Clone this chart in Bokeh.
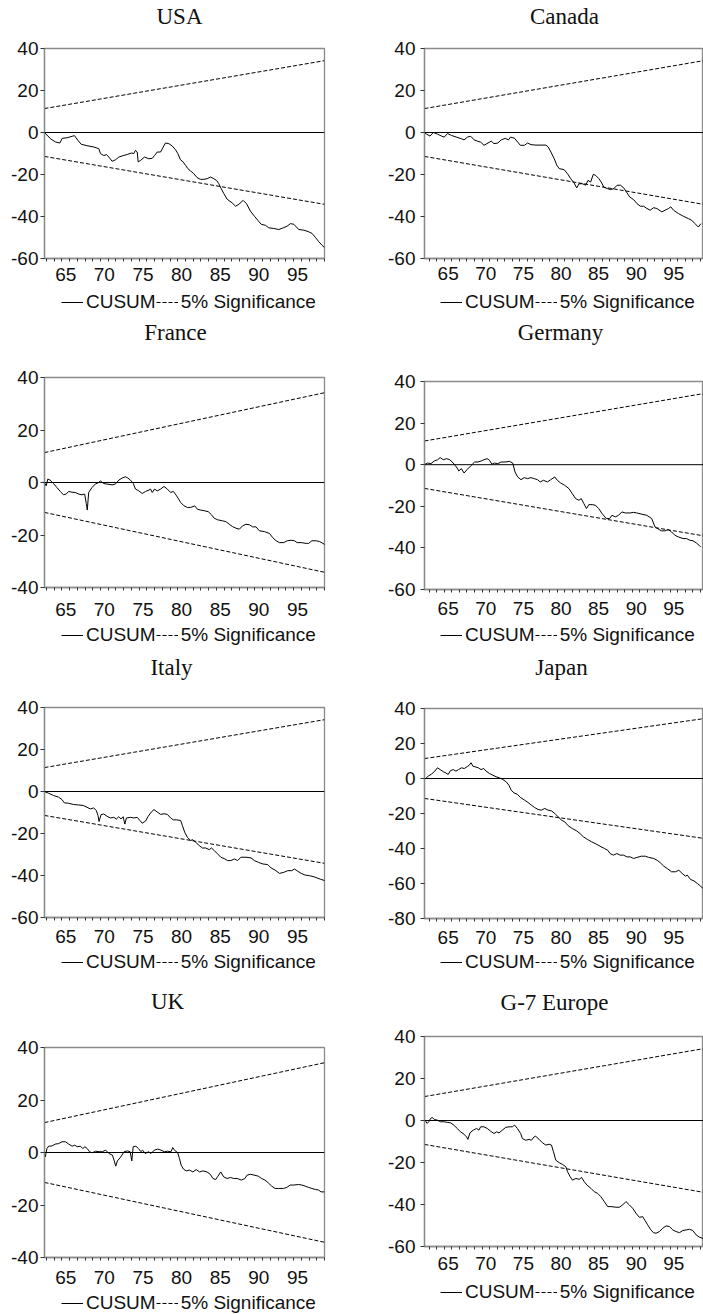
from bokeh.plotting import figure
from bokeh.models import Range1d, FixedTicker, Span, Legend, LegendItem, Label
from bokeh.layouts import row, column
from bokeh.embed import file_html
from bokeh.resources import INLINE

# ---------------- data ----------------
titles = ["USA", "Canada", "France", "Germany", "Italy", "Japan", "UK", "G-7 Europe"]

usa = [(62.75, 0), (63.53, -3), (64.17, -4.5), (64.74, -5), (65.04, -2.8), (65.68, -2.5), (66.33, -1.8),
       (66.63, -1.5), (67.07, -3.7), (67.50, -5.6), (68.27, -6.3), (69.14, -6.9), (69.78, -7.7), (70.00, -10),
       (70.43, -11), (70.78, -10.5), (71.08, -11.7), (71.51, -13.7), (71.94, -13), (72.37, -11.7), (72.93, -11),
       (73.45, -10.5), (73.97, -9.8), (74.31, -10), (74.53, -8.5), (74.75, -9.3), (74.88, -14), (75.18, -13.3),
       (75.70, -11.7), (76.26, -12.5), (76.69, -12.3), (76.99, -11), (77.34, -9.3), (77.77, -9.3), (78.11, -7),
       (78.41, -5), (78.85, -5.3), (79.28, -6.4), (79.71, -8.2), (80.01, -10), (80.36, -13), (80.70, -14),
       (81.00, -15.6), (81.31, -17.2), (81.65, -18.3), (82.08, -19.6), (82.51, -21.5), (82.94, -22.3),
       (83.38, -22.3), (83.81, -22), (84.24, -21.2), (84.67, -22), (85.02, -22.8), (85.32, -24.4), (85.62, -26.7),
       (85.97, -29.1), (86.40, -31.8), (87.04, -33.5), (87.48, -35.1), (87.91, -34.2), (88.47, -32.3),
       (88.90, -33.9), (89.42, -37.5), (89.93, -39.9), (90.37, -41.8), (90.80, -43.7), (91.36, -44.2),
       (91.79, -45.4), (92.44, -45.7), (93.08, -46.2), (93.65, -45.4), (94.16, -44.6), (94.60, -43.4),
       (95.03, -43.7), (95.67, -46.2), (96.32, -46.5), (96.97, -47.3), (97.40, -48.1), (97.83, -50),
       (98.26, -52), (98.69, -53.7), (99.00, -54.8)]

canada = [(62.20, 0), (62.64, -0.8), (63.08, -1.7), (63.52, 0), (64.09, -0.8), (64.62, -1.7), (64.97, -2.2),
          (65.41, -0.5), (65.94, -1.4), (66.60, -2.2), (67.26, -3), (67.61, -3.5), (68.06, -2.2), (68.50, -1.8),
          (68.94, -3.5), (69.38, -4.1), (69.82, -4.6), (70.26, -6.1), (70.79, -5), (71.23, -4.1), (71.58, -5.3),
          (72.11, -5), (72.55, -3.5), (73.08, -2.8), (73.52, -3.5), (73.78, -2.2), (74.31, -2.7), (74.75, -4.6),
          (75.10, -6.1), (75.63, -6.1), (76.07, -5), (76.51, -5.8), (77.17, -6), (77.83, -6), (78.50, -6),
          (78.80, -6.9), (79.16, -9.3), (79.60, -12.5), (79.95, -15.6), (80.26, -17.2), (80.92, -17.7),
          (81.36, -19.6), (81.80, -22), (82.24, -24), (82.59, -26.4), (82.90, -24.4), (83.34, -24.4),
          (83.78, -25.1), (84.09, -22.8), (84.44, -23.6), (84.80, -19.9), (85.10, -20.4), (85.54, -22),
          (85.85, -23.6), (86.20, -26), (86.65, -26.7), (87.09, -27.2), (87.53, -26.7), (87.97, -25.1),
          (88.41, -25.1), (88.85, -26.4), (89.29, -28.8), (89.64, -30.7), (90.17, -32), (90.61, -33.9),
          (91.05, -35.1), (91.49, -35.1), (91.93, -36.2), (92.37, -37), (92.81, -35.8), (93.25, -36.2),
          (93.91, -37.8), (94.35, -37), (94.80, -36.2), (95.10, -35.4), (95.46, -37), (96.12, -38.6),
          (96.78, -39.9), (97.44, -41), (97.88, -41.8), (98.32, -43.4), (98.76, -45), (99.11, -43.4)]

france = [(62.75, 0), (62.97, -1.3), (63.18, 1.3), (63.49, 0.9), (63.92, -0.4), (64.35, -1.9), (64.79, -3.4),
          (65.22, -4.7), (65.56, -4.4), (65.87, -3.4), (66.30, -3.7), (66.73, -3.8), (67.17, -4.4), (67.60, -4.7),
          (67.95, -4.4), (68.16, -8), (68.29, -10.5), (68.47, -3.8), (68.90, -1.9), (69.33, -0.6), (69.77, 0),
          (69.98, 0.6), (70.42, -0.4), (70.85, -0.6), (71.50, -0.9), (71.93, -0.6), (72.37, 0.9), (72.80, 1.7),
          (73.23, 2.2), (73.54, 1.7), (73.88, 0.9), (74.23, -0.3), (74.53, -2.5), (74.97, -3.2), (75.40, -4.2),
          (75.83, -3.4), (76.27, -2.9), (76.48, -2.5), (76.70, -3.8), (77.00, -2.5), (77.35, -3.2), (77.78, -2.5),
          (78.22, -1.5), (78.65, -2.5), (79.08, -3.8), (79.43, -3.4), (79.86, -5.1), (80.38, -7.6), (80.82, -8.9),
          (81.25, -9.5), (81.68, -9.5), (82.20, -8.9), (82.55, -10.2), (82.98, -10.5), (83.50, -10.8),
          (83.94, -11.1), (84.37, -12.3), (84.72, -13.6), (85.15, -14.2), (85.80, -14.6), (86.23, -14.9),
          (86.67, -15.9), (87.10, -16.8), (87.53, -17.4), (87.97, -17.8), (88.40, -16.5), (88.83, -15.9),
          (89.27, -16.1), (89.70, -16.9), (90.13, -16.9), (90.57, -18.4), (91.22, -18.7), (91.87, -19.4),
          (92.30, -21), (92.73, -22.2), (93.17, -22.9), (93.73, -22.9), (94.16, -22.2), (94.68, -22),
          (95.12, -22.2), (95.46, -22.9), (95.98, -22.9), (96.63, -23.2), (96.94, -23.2), (97.37, -22.2),
          (97.93, -22.2), (98.37, -22.5), (98.80, -23.2), (99.10, -23.8)]

germany = [(62.20, -0.3), (62.42, 0.2), (62.77, 0.8), (63.21, 0.5), (63.65, 1.8), (64.09, 2.4), (64.44, 3.4),
           (64.84, 2.4), (65.28, 2.9), (65.72, 2.4), (66.16, 0.8), (66.60, -1.1), (66.91, -3), (67.26, -1.9),
           (67.61, -4), (68.05, -2.2), (68.49, -0.6), (69.02, 1.3), (69.46, 1.3), (69.90, 1.8), (70.25, 2.4),
           (70.69, 2.9), (71.00, 2.1), (71.31, 0.2), (71.66, 0.8), (72.10, 0.5), (72.54, 1.3), (73.07, 1.3),
           (73.64, 1.6), (74.08, 0.8), (74.39, -3.5), (74.74, -5.9), (75.18, -7.2), (75.62, -6.2), (76.06, -6.7),
           (76.50, -6.2), (76.94, -6.7), (77.38, -7.2), (77.73, -8.3), (78.17, -7.5), (78.70, -8.3), (79.14, -7.2),
           (79.67, -5.9), (80.02, -7.5), (80.46, -8.8), (80.99, -9.9), (81.56, -11.5), (82.00, -13.9),
           (82.44, -16.3), (82.88, -17.1), (83.19, -16.3), (83.54, -18.7), (83.89, -21.1), (84.20, -19.2),
           (84.64, -19.2), (85.08, -19.5), (85.52, -21.1), (85.96, -23.5), (86.53, -25.9), (86.97, -25.9),
           (87.28, -24.3), (87.72, -25.1), (88.16, -24.3), (88.60, -22.7), (89.04, -23.2), (89.70, -23.2),
           (90.14, -22.9), (90.58, -23.2), (91.24, -23.8), (91.90, -24.3), (92.56, -25.9), (93.00, -29.9),
           (93.44, -31), (93.88, -31.8), (94.32, -31.8), (94.76, -31.2), (95.20, -32.3), (95.64, -33.9),
           (96.08, -34.7), (96.74, -35.5), (97.18, -35.5), (97.62, -36.3), (98.06, -36.6), (98.50, -37.6),
           (98.85, -38.7), (99.07, -39.5)]

italy = [(62.71, 0), (63.27, -0.8), (63.92, -1.9), (64.57, -2.7), (65.00, -3.8), (65.31, -5.4), (65.87, -5.6),
         (66.52, -6.2), (67.17, -6.4), (67.82, -6.7), (68.25, -7.5), (68.68, -8.3), (69.12, -7.8), (69.46, -9.1),
         (69.68, -11.5), (69.81, -14.3), (70.07, -11), (70.42, -10.7), (70.85, -11.8), (71.28, -12.6),
         (71.72, -12.3), (72.06, -13.1), (72.37, -12), (72.67, -13.1), (72.93, -12), (73.15, -15.5),
         (73.36, -12.6), (73.88, -12.3), (74.32, -12.6), (74.75, -12.3), (75.10, -13.8), (75.40, -15.1),
         (75.83, -14.1), (76.14, -12), (76.57, -9.8), (76.92, -8.6), (77.35, -9.8), (77.78, -10.9), (78.22, -10.6),
         (78.65, -10.9), (79.08, -12.6), (79.43, -13.5), (79.86, -13.5), (80.38, -13.8), (80.60, -16.2),
         (80.90, -19.4), (81.25, -21.8), (81.68, -23.4), (81.90, -22.9), (82.33, -24.2), (82.77, -25.7),
         (83.20, -26.9), (83.63, -26.9), (84.07, -27.7), (84.37, -26.9), (84.72, -28.1), (85.15, -29.7),
         (85.58, -31.3), (86.10, -32.1), (86.45, -32.9), (86.88, -32.9), (87.32, -32.1), (87.75, -32.9),
         (88.18, -31.3), (88.83, -31.3), (89.48, -31.6), (89.92, -32.9), (90.44, -33.7), (91.00, -34.5),
         (91.65, -34.8), (92.08, -36.4), (92.60, -37.4), (93.17, -39), (93.73, -38.5), (94.24, -37.7),
         (94.76, -37.7), (95.12, -36.9), (95.55, -38), (95.98, -39), (96.50, -39.8), (97.06, -40.1),
         (97.63, -40.6), (98.06, -41.2), (98.49, -41.8), (99.10, -42.5)]

japan = [(62.51, 0), (62.83, 1.3), (63.27, 2.5), (63.72, 4.2), (64.07, 6.1), (64.43, 5.1), (64.88, 3.8),
         (65.19, 3.2), (65.50, 2.3), (65.77, 4.4), (66.17, 5.1), (66.53, 4.2), (66.88, 5.1), (67.28, 6.1),
         (67.64, 5.7), (68.09, 7), (68.31, 7.6), (68.53, 9), (68.80, 7), (69.07, 6.7), (69.51, 6.1), (69.87, 5.1),
         (70.23, 5.7), (70.54, 4.2), (70.98, 2.9), (71.43, 1.9), (71.88, 1), (72.32, 0.4), (72.77, -0.6),
         (73.21, -1.9), (73.57, -3.8), (73.88, -6.7), (74.24, -8.2), (74.68, -9), (75.13, -10.9), (75.67, -12.4),
         (76.11, -13.7), (76.56, -15.2), (77.00, -16.6), (77.45, -17.7), (77.89, -18.1), (78.34, -17.1),
         (78.79, -18.1), (79.23, -18.5), (79.68, -20), (80.12, -21.9), (80.57, -23.8), (81.01, -24.8),
         (81.46, -27), (82.00, -28.6), (82.57, -29.9), (83.02, -31.4), (83.47, -33.3), (84.05, -34.9),
         (84.58, -36.2), (85.03, -37.1), (85.70, -38.7), (86.28, -40), (86.72, -41), (87.03, -42.9),
         (87.48, -43.8), (87.93, -42.9), (88.37, -43.8), (88.82, -43.8), (89.26, -44.8), (89.71, -44.8),
         (90.15, -45.7), (90.60, -45.1), (91.18, -44.4), (91.71, -44.4), (92.16, -45.1), (92.83, -45.7),
         (93.28, -46.7), (93.72, -48.2), (94.17, -50.1), (94.61, -51.4), (95.19, -53.3), (95.73, -53.3),
         (96.17, -52.4), (96.62, -54.3), (97.07, -55.8), (97.29, -55.2), (97.73, -57.7), (98.18, -58.5),
         (98.63, -60), (99.07, -61.5), (99.38, -62.9), (99.65, -62), (99.87, -62.3)]

uk = [(62.50, -0.4), (62.72, -1), (62.85, -1.7), (63.07, 1.5), (63.29, 2.4), (63.72, 2.5), (64.15, 3.2),
      (64.59, 3.4), (65.02, 4.1), (65.46, 4.1), (65.89, 3.2), (66.33, 2.4), (66.67, 2.8), (66.98, 2.2),
      (67.41, 2.4), (67.71, 1.5), (67.98, 2.2), (68.28, 1.5), (68.58, 0.3), (68.93, -0.1), (69.36, 0.5),
      (69.80, 0.3), (70.23, 0.3), (70.67, 0.9), (71.10, -0.4), (71.54, -1), (71.75, -2.9), (71.97, -5.2),
      (72.19, -3.2), (72.62, -1.7), (73.06, 0.3), (73.49, 0.6), (73.84, 0.3), (74.05, -3.2), (74.23, 2.2),
      (74.58, 2.4), (74.92, 1.5), (75.23, 0.3), (75.44, 0.9), (75.79, -0.4), (76.23, 0.3), (76.53, -0.4),
      (76.96, 0.9), (77.40, 1.3), (77.83, 0.9), (78.27, 0.3), (78.70, 0.5), (79.13, 0.3), (79.35, 1.9),
      (79.57, 0.9), (80.00, -0.1), (80.22, -2.3), (80.44, -4.8), (80.74, -6.3), (81.09, -7), (81.52, -6.7),
      (81.96, -7.4), (82.39, -6.5), (82.83, -7.4), (83.26, -7), (83.78, -7.4), (84.21, -8.3), (84.56, -9.9),
      (84.91, -10.3), (85.21, -9.0), (85.56, -7.4), (85.95, -9.3), (86.39, -9.9), (86.82, -9.5), (87.25, -9.9),
      (87.69, -9.9), (88.25, -10.5), (88.69, -9.9), (88.99, -8.6), (89.43, -8.3), (89.86, -8.6), (90.42, -9.0),
      (90.86, -9.9), (91.29, -10.5), (91.73, -11.6), (92.16, -12.8), (92.60, -13.7), (93.03, -13.7),
      (93.68, -13.7), (94.12, -13.3), (94.55, -12.4), (94.98, -12.4), (95.64, -12.2), (96.07, -12.4),
      (96.50, -12.8), (96.94, -13.3), (97.37, -13.7), (97.81, -14.1), (98.24, -14.3), (98.54, -15.0),
      (98.98, -15.0)]

g7_europe = [(62.48, -0.2), (62.70, -1.4), (62.92, -0.6), (63.14, 0.9), (63.37, 1.4), (63.68, 0.5), (64.03, 0.2),
             (64.48, -0.6), (64.92, -0.6), (65.37, -0.9), (65.81, -1.1), (66.26, -2.2), (66.70, -3.8), (67.14, -5.4),
             (67.59, -6.5), (67.94, -7.8), (68.12, -9.0), (68.39, -5.9), (68.83, -4.6), (69.28, -3.8), (69.59, -4.6),
             (69.81, -3.0), (70.26, -3.0), (70.70, -3.8), (71.14, -5.1), (71.59, -6.2), (71.94, -5.4), (72.26, -5.9),
             (72.70, -4.6), (73.14, -3.3), (73.59, -3.0), (74.03, -3.0), (74.34, -2.2), (74.70, -3.8), (75.14, -6.2),
             (75.37, -8.6), (75.81, -9.4), (76.26, -9.0), (76.57, -9.4), (76.92, -7.8), (77.14, -7.5), (77.59, -9.0),
             (78.03, -10.6), (78.48, -11.7), (78.92, -11.3), (79.23, -11.7), (79.50, -14.9), (79.81, -18.9),
             (80.26, -20.1), (80.70, -20.9), (81.14, -22), (81.37, -24.4), (81.72, -26.8), (82.03, -28.4),
             (82.48, -27.6), (82.92, -28.0), (83.23, -27.1), (83.59, -29.1), (83.94, -30.7), (84.48, -32.3),
             (84.92, -33.9), (85.37, -34.7), (85.81, -36.3), (86.26, -38.6), (86.70, -41), (87.14, -41),
             (87.81, -41.3), (88.26, -41.3), (88.70, -40.2), (89.14, -38.6), (89.59, -40.2), (90.03, -41.8),
             (90.48, -44.2), (90.92, -46.1), (91.37, -45.8), (91.68, -47.7), (92.03, -49.7), (92.39, -51.8),
             (92.79, -53.4), (93.14, -53.7), (93.59, -52.9), (94.03, -51.3), (94.48, -50.2), (94.92, -50.5),
             (95.37, -52.1), (95.81, -52.9), (96.26, -53.4), (96.70, -52.4), (97.14, -52.1), (97.59, -51.8),
             (98.03, -52.4), (98.48, -54.5), (98.92, -55.6), (99.37, -56.1), (99.72, -55.3)]

series = [usa, canada, france, germany, italy, japan, uk, g7_europe]
y_lows = [-60, -60, -40, -60, -60, -80, -40, -60]
y_high = 40
sample_left = (62.75, 99.0)
sample_right = (62.35, 99.45)
band_start = 11.4      # 5% significance band at start of sample
band_end = 34.2        # 5% significance band at end of sample
x_label_years = [65, 70, 75, 80, 85, 90, 95]
x_tick_labels = ["65", "70", "75", "80", "85", "90", "95"]
legend_labels = ["CUSUM", "5% Significance"]

# ---------------- layout (page pixels) ----------------
COL_X = [0, 352]
COL_W = [352, 351]
FRAME_LEFT = [44, 72]        # frame left offset inside the column
FRAME_W = [280, 279]
ROWS = [(0, 318), (318, 330), (648, 327), (975, 339)]   # (top, height)
# per panel: frame_top, frame_height, x-label centre below frame, title baseline, title centre x, legend centre y
PANEL = [
    (48, 210, 17, 24, 179, 302), (48, 210, 16, 24, 564, 302),
    (377, 210, 23, 340, 175, 635), (381, 208, 20, 340, 560, 635),
    (707, 210, 20, 675, 171, 962), (708, 210, 20, 675, 561, 962),
    (1047, 210, 21, 1009, 167, 1303), (1036, 210, 18, 1010, 554, 1292),
]
LEGEND_LEFT = [61, 440]
TOP_PAD = 14
LEGEND_H = 22
TITLE_SHIFT = 8      # measured offset of the label anchor against the baseline

GRAY = "#8a8a8a"
INK = "#111111"
SANS = "Liberation Sans"
SERIF = "Liberation Serif"
NAN = float("nan")


def blank(w, h):
    f = figure(width=w, height=h, output_backend="svg", toolbar_location=None,
               x_axis_location=None, y_axis_location=None, min_border=0,
               x_range=Range1d(0, 1), y_range=Range1d(0, 1))
    f.outline_line_color = None
    f.grid.visible = False
    f.background_fill_color = "white"
    f.border_fill_color = "white"
    return f


def make_panel(i):
    col = i % 2
    row_top, row_h = ROWS[i // 2]
    f_top, f_h, xl_off, t_base, t_cx, lg_cy = PANEL[i]
    w = COL_W[col]
    s0, s1 = sample_right if col else sample_left
    frame_x0 = COL_X[col] + FRAME_LEFT[col]    # page x of frame left (all stacked frames align)

    main_top = f_top - TOP_PAD
    mbb = xl_off + 13
    main_h = TOP_PAD + f_h + mbb
    head_h = main_top - row_top
    foot_top = main_top + main_h
    foot_h = row_top + row_h - foot_top

    # ---- header with the title ----
    head = blank(w, head_h)
    head.add_layout(Label(x=t_cx - frame_x0, y=main_top - t_base + TITLE_SHIFT,
                          x_units="screen", y_units="screen",
                          text=titles[i], text_align="center", text_baseline="alphabetic",
                          text_font=SERIF, text_font_size="23px", text_color=INK))

    # ---- main chart ----
    p = figure(width=w, height=main_h, output_backend="svg", toolbar_location=None,
               x_range=Range1d(s0, s1), y_range=Range1d(y_lows[i], y_high),
               min_border_left=FRAME_LEFT[col], min_border_right=w - FRAME_LEFT[col] - FRAME_W[col],
               min_border_top=TOP_PAD, min_border_bottom=mbb)
    p.xgrid.visible = False
    p.ygrid.visible = False
    p.outline_line_color = GRAY
    p.outline_line_width = 1.3
    p.background_fill_color = "white"
    p.border_fill_color = "white"

    xs = [d[0] for d in series[i]]
    ys = [d[1] for d in series[i]]
    p.line(xs, ys, line_color="black", line_width=1)
    p.line([s0, s1], [band_start, band_end], line_color="black", line_width=1, line_dash="4 2")
    p.line([s0, s1], [-band_start, -band_end], line_color="black", line_width=1, line_dash="4 2")
    p.add_layout(Span(location=0, dimension="width", line_color="black", line_width=1))

    xa = p.xaxis[0]
    xa.ticker = FixedTicker(ticks=[y + 0.5 for y in x_label_years],
                            minor_ticks=list(range(63, 100)))
    xa.major_label_overrides = {y + 0.5: lab for y, lab in zip(x_label_years, x_tick_labels)}
    xa.major_tick_out = 0
    xa.major_tick_in = 0
    xa.minor_tick_out = 3
    xa.minor_tick_in = 0
    xa.minor_tick_line_color = "#333333"
    xa.axis_line_color = GRAY
    xa.axis_line_width = 1.3
    xa.major_label_standoff = xl_off - 11
    xa.major_label_text_font = SANS
    xa.major_label_text_font_size = "19px"
    xa.major_label_text_color = INK

    ya = p.yaxis[0]
    yticks = list(range(y_lows[i], y_high + 1, 20))
    ya.ticker = FixedTicker(ticks=yticks, minor_ticks=[])
    ya.major_label_overrides = {t: str(t) for t in yticks}
    ya.major_tick_out = 4
    ya.major_tick_in = 0
    ya.major_tick_line_color = "#333333"
    ya.axis_line_color = GRAY
    ya.axis_line_width = 1.3
    ya.major_label_standoff = 5 if col else 2
    ya.major_label_text_font = SANS
    ya.major_label_text_font_size = "19px"
    ya.major_label_text_color = INK

    # ---- footer with the legend (legend-only renderers hold no visible data) ----
    foot = blank(w, foot_h)
    r_cus = foot.line([NAN], [NAN], line_color="black", line_width=1)
    r_sig = foot.line([NAN], [NAN], line_color="black", line_width=1, line_dash="4 2")
    leg = Legend(items=[LegendItem(label=legend_labels[0], renderers=[r_cus]),
                        LegendItem(label=legend_labels[1], renderers=[r_sig])],
                 orientation="horizontal",
                 location=(LEGEND_LEFT[col] - frame_x0, (row_top + row_h) - lg_cy - LEGEND_H // 2),
                 glyph_width=22, glyph_height=20, label_height=20, label_standoff=3, spacing=0,
                 padding=0, margin=0, border_line_color=None, background_fill_alpha=0,
                 label_text_font=SANS, label_text_font_size="19px", label_text_color=INK)
    foot.add_layout(leg)

    return column(head, p, foot)


cells = [make_panel(i) for i in range(8)]
layout = column([row(cells[2 * r], cells[2 * r + 1]) for r in range(4)])
open("out.html", "w").write(file_html(layout, INLINE))
